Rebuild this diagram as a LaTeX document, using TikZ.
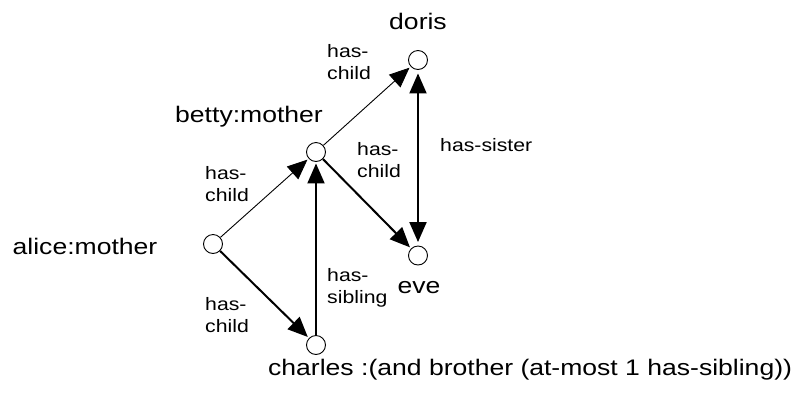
\documentclass[tikz,border=0pt]{standalone}
\usepackage{fontspec}
\setmainfont{Liberation Sans}[FakeStretch=1.18]
\usetikzlibrary{arrows.meta}
\begin{document}
\begin{tikzpicture}[x=1pt,y=-1pt,
  dot/.style={circle,draw,minimum size=19pt,inner sep=0pt,line width=0.9pt},
  big/.style={inner sep=0pt,anchor=base,font=\fontsize{22.5}{27}\selectfont},
  lbl/.style={inner sep=0pt,anchor=north west,align=left,font=\fontsize{18}{22}\selectfont},
  head/.tip={Triangle[length=20pt,width=17pt]},
  tip/.style={-head,shorten >=1.5pt},
  thin/.style={line width=0.9pt},
  thick2/.style={line width=2pt}]
\useasboundingbox (0,0) rectangle (812,392);
\node[dot] (a) at (213,244) {};
\node[dot] (b) at (316,152) {};
\node[dot] (d) at (418,60) {};
\node[dot] (e) at (418,255.5) {};
\node[dot] (c) at (316,345) {};
\node[big] (ta) at (85,254) {alice:mother};
\node[big] (tb) at (249,122) {betty:mother};
\node[big] (td) at (418,29) {doris};
\node[big] (te) at (419,293) {eve};
\node[big,anchor=base west] (tc) at (268,375) {charles :(and brother (at-most 1 has-sibling))};
\node[lbl] (l1) at (327,44) {has-\\child};
\node[lbl] (l2) at (205,166) {has-\\child};
\node[lbl] (l3) at (357,142) {has-\\child};
\node[lbl] (l4) at (205,297) {has-\\child};
\node[lbl] (l5) at (327,268) {has-\\sibling};
\node[lbl,anchor=base west] (l6) at (440,151) {has-sister};
\draw[thin,tip] (a) -- (b);
\draw[thin,tip] (b) -- (d);
\draw[thick2,tip] (a) -- (c);
\draw[thick2,tip] (b) -- (e);
\draw[thick2,tip] (c) -- (b);
\draw[thick2,head-head,shorten <=3.5pt,shorten >=3.5pt] (d) -- (e);
\end{tikzpicture}
\end{document}
